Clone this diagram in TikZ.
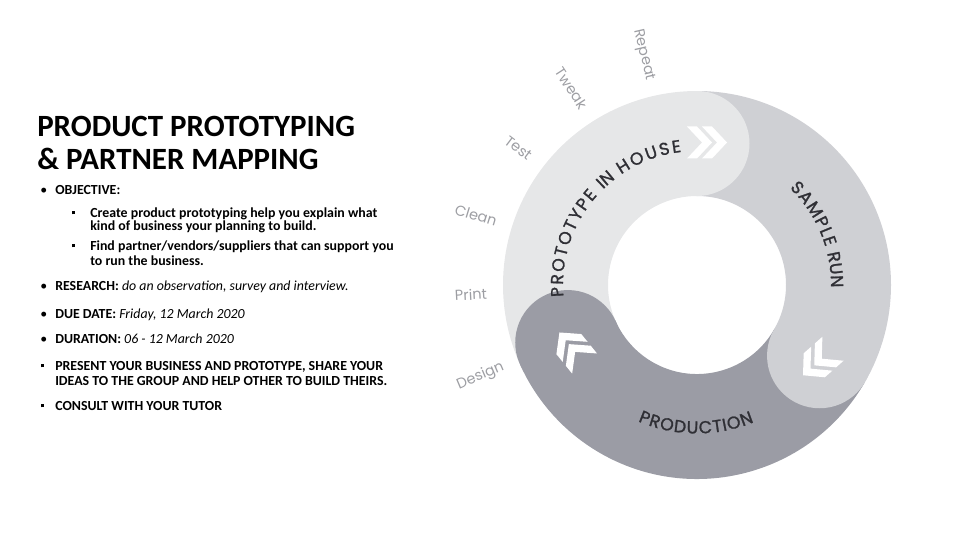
\documentclass[tikz,border=0pt]{standalone}
\usepackage{fontspec}
\setmainfont{Carlito}
\newfontfamily\popfont{Poppins}
\newfontfamily\popbold{Poppins}[FakeBold=1.3]
\usetikzlibrary{decorations.text}
\definecolor{bandA}{HTML}{E6E7E8}
\definecolor{bandB}{HTML}{CFD0D4}
\definecolor{bandC}{HTML}{9B9CA5}
\definecolor{ringtxt}{HTML}{2F2F35}
\definecolor{lbl}{HTML}{9D9EA3}
\tikzset{
  txt/.style={anchor=base west, inner sep=0pt, font=\fontsize{10.4}{12}\selectfont},
  ttl/.style={anchor=base west, inner sep=0pt, font=\bfseries\fontsize{23.2}{25}\selectfont},
  lab/.style={text=lbl, font=\popfont\fontsize{10.9}{13}\selectfont, anchor=mid east, inner sep=0pt},
  headcap/.style={circle, inner sep=0pt, minimum size=78.75pt},
  band/.style={line width=78.75pt},
  ringtext/.style={decorate, decoration={text along path, text color=ringtxt,
     text align={fit to path}, text={|\popbold\fontsize{13}{14}\selectfont|#1}}},
  sq/.style={anchor=base west, inner sep=0pt},
  chev/.pic={
    \fill[white] (-20,16) -- (-10,16) -- (5,0) -- (-10,-16) -- (-20,-16) -- (-5,0) -- cycle;
    \fill[white] (-5,16) -- (5,16) -- (20,0) -- (5,-16) -- (-5,-16) -- (10,0) -- cycle;
  }
}
\newcommand{\sqb}{\raisebox{2pt}{\rule{2.4pt}{2.4pt}}}
\begin{document}
\begin{tikzpicture}[x=0.75pt,y=0.75pt]
\useasboundingbox (0,0) rectangle (960,540);
\coordinate (C) at (697,255);

% ring bands
\draw[band, bandA] ([shift={(204:141.5)}]C) arc[start angle=204, end angle=90, radius=141.5];
\draw[band, bandB] ([shift={(90:141.5)}]C) arc[start angle=90, end angle=-30, radius=141.5];
\draw[band, bandC] ([shift={(-30:141.5)}]C) arc[start angle=-30, end angle=-156, radius=141.5];
% rounded heads
\node[headcap, fill=bandA] (capA) at ([shift={(90:141.5)}]C) {};
\node[headcap, fill=bandB] (capB) at ([shift={(-30:141.5)}]C) {};
\node[headcap, fill=bandC] (capC) at ([shift={(204:141.5)}]C) {};
% chevrons
\path (707,397.5) pic[rotate=0]{chev};
\path (818,178) pic[rotate=-138.5]{chev};
\path (572,192) pic[rotate=129]{chev};

% ring texts
\path[ringtext={PROTOTYPE}] ([shift={(185:134)}]C) arc[start angle=185, end angle=138, radius=134];
\path[ringtext={IN}] ([shift={(134.5:134)}]C) arc[start angle=134.5, end angle=128.5, radius=134];
\path[ringtext={HOUSE}] ([shift={(124.5:134)}]C) arc[start angle=124.5, end angle=96.6, radius=134];
\path[ringtext={SAMPLE}] ([shift={(46.3:134)}]C) arc[start angle=46.3, end angle=16.5, radius=134];
\path[ringtext={RUN}] ([shift={(13.8:134)}]C) arc[start angle=13.8, end angle=-1.1, radius=134];
\path[ringtext={PRODUCTION}] ([shift={(246.6:148.5)}]C) arc[start angle=246.6, end angle=292.6, radius=148.5];

% side labels
\node[lab, rotate=-77] (repeat) at ([shift={(103:210)}]C) {Repeat};
\node[lab, rotate=-57] (tweak) at ([shift={(123:210)}]C) {Tweak};
\node[lab, rotate=-37] (test) at ([shift={(143:210)}]C) {Test};
\node[lab, rotate=-17] (clean) at ([shift={(163:210)}]C) {Clean};
\node[lab, rotate=3] (print) at ([shift={(183:210)}]C) {Print};
\node[lab, rotate=23] (design) at ([shift={(203:210)}]C) {Design};

% left column
\node[ttl] (t1) at (37,403) {PRODUCT PROTOTYPING};
\node[ttl] (t2) at (37,370) {\& PARTNER MAPPING};

\node[txt] (b1) at (40,345) {\textbullet};
\node[txt] (l1) at (55,345) {\textbf{OBJECTIVE:}};
\node[sq] (s1) at (72,323) {\sqb};
\node[txt] (l2) at (90,323) {\textbf{Create product prototyping help you explain what}};
\node[txt] (l3) at (90,310) {\textbf{kind of business your planning to build.}};
\node[sq] (s2) at (72,290) {\sqb};
\node[txt] (l4) at (90,290) {\textbf{Find partner/vendors/suppliers that can support you}};
\node[txt] (l5) at (90,275) {\textbf{to run the business.}};
\node[txt] (b2) at (40,250) {\textbullet};
\node[txt] (l6) at (55,250) {\textbf{RESEARCH:} \textit{do an observation, survey and interview.}};
\node[txt] (b3) at (40,222) {\textbullet};
\node[txt] (l7) at (55,222) {\textbf{DUE DATE:} \textit{Friday, 12 March 2020}};
\node[txt] (b4) at (40,197) {\textbullet};
\node[txt] (l8) at (55,197) {\textbf{DURATION:} \textit{06 - 12 March 2020}};
\node[sq] (s3) at (41,170) {\sqb};
\node[txt] (l9) at (55,170) {\textbf{PRESENT YOUR BUSINESS AND PROTOTYPE, SHARE YOUR}};
\node[txt] (l10) at (55,155) {\textbf{IDEAS TO THE GROUP AND HELP OTHER TO BUILD THEIRS.}};
\node[sq] (s4) at (41,130) {\sqb};
\node[txt] (l11) at (55,130) {\textbf{CONSULT WITH YOUR TUTOR}};
\end{tikzpicture}
\end{document}
